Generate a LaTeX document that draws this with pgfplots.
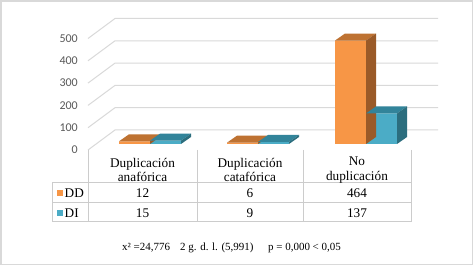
\documentclass[border=0pt]{standalone}
\usepackage{pgfplots}
\pgfplotsset{compat=1.18}
\usepackage{pgfplotstable}
\usepackage{fontspec}
\setmainfont{Liberation Serif}
\newfontfamily\calib{Carlito}

\definecolor{orF}{HTML}{F79646}
\definecolor{orT}{HTML}{BE7232}
\definecolor{orS}{HTML}{9A5A28}
\definecolor{blF}{HTML}{4BACC6}
\definecolor{blT}{HTML}{32849A}
\definecolor{blS}{HTML}{2C6E7E}
\definecolor{gridc}{HTML}{D9D9D9}
\definecolor{tline}{HTML}{CCCCCC}
\definecolor{ticktxt}{HTML}{595959}

\pgfplotstableread{
cat DD DI
0 12 15
1 6 9
2 464 137
}\datatable

% 3D top + side faces of a bar, drawn at the data point (group centre, value)
\pgfdeclareplotmark{orbar}{%
  \pgfsetfillcolor{orT}%
  \pgfpathmoveto{\pgfpoint{-31bp}{0bp}}%
  \pgfpathlineto{\pgfpoint{0bp}{0bp}}%
  \pgfpathlineto{\pgfpoint{10bp}{7bp}}%
  \pgfpathlineto{\pgfpoint{-21bp}{7bp}}%
  \pgfpathclose\pgfusepath{fill}%
  \pgfsetfillcolor{orS}%
  \pgfpathmoveto{\pgfpoint{0bp}{0bp}}%
  \pgfpathlineto{\pgfpoint{10bp}{7bp}}%
  \pgfpathlineto{\pgfpoint{10bp}{7bp-\h*0.223bp}}%
  \pgfpathlineto{\pgfpoint{0bp}{-\h*0.223bp}}%
  \pgfpathclose\pgfusepath{fill}%
}
\pgfdeclareplotmark{blbar}{%
  \pgfsetfillcolor{blT}%
  \pgfpathmoveto{\pgfpoint{0bp}{0bp}}%
  \pgfpathlineto{\pgfpoint{31bp}{0bp}}%
  \pgfpathlineto{\pgfpoint{41bp}{7bp}}%
  \pgfpathlineto{\pgfpoint{10bp}{7bp}}%
  \pgfpathclose\pgfusepath{fill}%
  \pgfsetfillcolor{blS}%
  \pgfpathmoveto{\pgfpoint{31bp}{0bp}}%
  \pgfpathlineto{\pgfpoint{41bp}{7bp}}%
  \pgfpathlineto{\pgfpoint{41bp}{7bp-\h*0.223bp}}%
  \pgfpathlineto{\pgfpoint{31bp}{-\h*0.223bp}}%
  \pgfpathclose\pgfusepath{fill}%
}

\begin{document}
\begin{tikzpicture}
\useasboundingbox (0,0) rectangle (474bp,266bp);
\fill[white] (0,0) rectangle (474bp,266bp);

\begin{scope}[x=1bp,y=-1bp,yshift=266bp]
  % outer frame
  \draw[gridc, line width=1.2bp] (1,1) rectangle (472.5,264.5);
  % walls / gridlines
  \foreach \v in {0,100,200,300,400,500}{
    \draw[gridc, line width=1bp] (88,{150-0.223*\v}) -- (115,{130-0.223*\v}) -- (438,{130-0.223*\v});
    \node[anchor=east, inner sep=0pt, text=ticktxt, font=\calib\fontsize{12}{14}\selectfont] at (78,{150-0.223*\v}) {\v};
  }
\end{scope}

\begin{axis}[
  at={(0,0)}, anchor=south west,
  x=108bp, y=0.223bp,
  xmin=-1.388889, xmax=3.0,
  ymin=-547.09, ymax=645.74,
  hide axis, clip=false,
]
\addplot[ybar, bar width=31bp, bar shift=-15.5bp, fill=orF, draw=none] table[x=cat,y=DD]{\datatable};
\addplot[only marks, mark=orbar, visualization depends on={rawy \as \h}] table[x=cat,y=DD]{\datatable};
\addplot[ybar, bar width=31bp, bar shift=15.5bp, fill=blF, draw=none] table[x=cat,y=DI]{\datatable};
\addplot[only marks, mark=blbar, visualization depends on={rawy \as \h}] table[x=cat,y=DI]{\datatable};
\end{axis}

\begin{scope}[x=1bp,y=-1bp,yshift=266bp]
  % data table
  \draw[tline, line width=1bp]
    (88,150) -- (88,222)
    (197,150) -- (197,222)
    (303,150) -- (303,222)
    (411,150) -- (411,222)
    (52,183) -- (52,222)
    (52,183) -- (411,183)
    (52,203) -- (411,203)
    (52,222) -- (411,222);
  \begin{scope}[every node/.style={font=\fontsize{13.3}{14.5}\selectfont, inner sep=0pt, align=center}]
    \node at (142.5,170) {Duplicación\\anafórica};
    \node at (250,170) {Duplicación\\catafórica};
    \node at (357,170) {No\\duplicación};
    \foreach \r/\xc in {0/142.5,1/250,2/357}{
      \pgfplotstablegetelem{\r}{DD}\of\datatable
      \node at (\xc,193.5) {\pgfplotsretval};
      \pgfplotstablegetelem{\r}{DI}\of\datatable
      \node at (\xc,213) {\pgfplotsretval};
    }
    \fill[orF] (57,190.5) rectangle (63,196.5);
    \fill[blF] (57,210) rectangle (63,216);
    \node[anchor=west] at (64.5,193.5) {DD};
    \node[anchor=west] at (64.5,213) {DI};
  \end{scope}
  % footnote
  \begin{scope}[every node/.style={font=\fontsize{11}{13}\selectfont, inner sep=0pt, anchor=west}]
    \node at (122,248) {x² =24,776};
    \node at (180,248) {2 g. d. l. (5,991)};
    \node at (268,248) {p = 0,000 < 0,05};
  \end{scope}
\end{scope}
\end{tikzpicture}
\end{document}
